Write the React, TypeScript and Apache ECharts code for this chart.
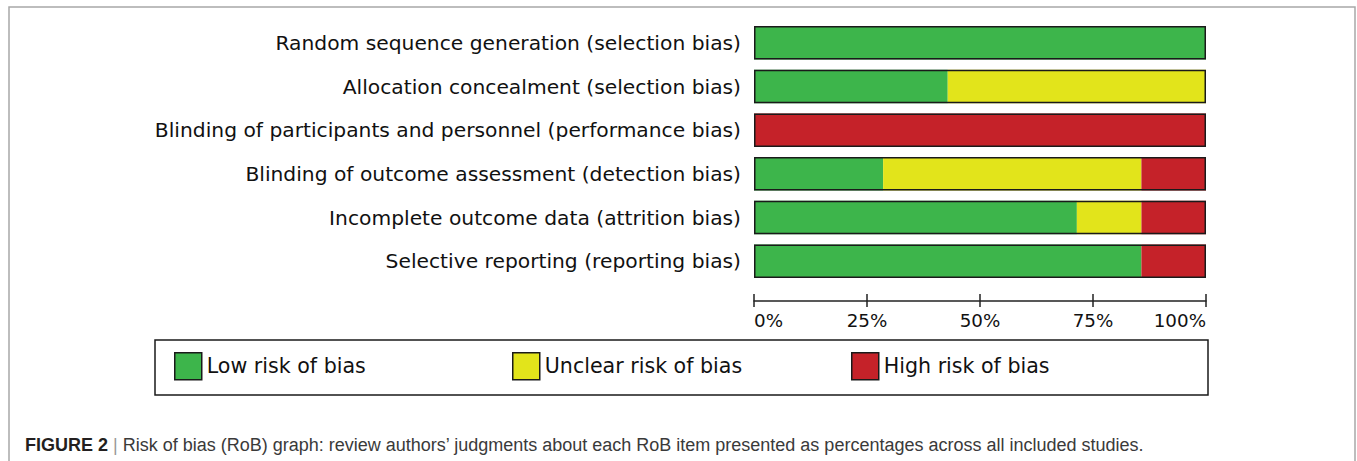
import React, { useEffect, useRef } from "react";
import * as echarts from "echarts";

const categories = [
  "Random sequence generation (selection bias)",
  "Allocation concealment (selection bias)",
  "Blinding of participants and personnel (performance bias)",
  "Blinding of outcome assessment (detection bias)",
  "Incomplete outcome data (attrition bias)",
  "Selective reporting (reporting bias)",
];

const lowRisk = [100, 42.86, 0, 28.57, 71.43, 85.71];
const unclearRisk = [0, 57.14, 0, 57.14, 14.29, 0];
const highRisk = [0, 0, 100, 14.29, 14.29, 14.29];
const barTotal = [100, 100, 100, 100, 100, 100];

const seriesNames = ["Low risk of bias", "Unclear risk of bias", "High risk of bias"];
const seriesColors = ["#3db54b", "#e2e41b", "#c52229"];

const xMin = 0;
const xMax = 100;
const xInterval = 25;

const captionBold = "FIGURE 2";
const captionText =
  "Risk of bias (RoB) graph: review authors\u2019 judgments about each RoB item presented as percentages across all included studies.";

const LABEL_FONT = "DejaVu Sans";

export default function App() {
  const ref = useRef<HTMLDivElement>(null);

  useEffect(() => {
    if (!ref.current) return;
    const chart = echarts.init(ref.current, null, { renderer: "svg" });

    const stackSeries = [lowRisk, unclearRisk, highRisk].map((d, i) => ({
      name: seriesNames[i],
      type: "bar",
      stack: "total",
      data: d,
      barWidth: 33.5,
      barGap: "-100%",
      itemStyle: { color: seriesColors[i] },
      emphasis: { disabled: true },
    }));

    const legendLefts = [174, 512, 851];

    const option: any = {
      animation: false,
      backgroundColor: "#ffffff",
      grid: {
        left: 754,
        right: 151,
        top: 21,
        height: 262,
        containLabel: false,
        outerBoundsMode: "none",
      },
      legend: seriesNames.map((n, i) => ({
        data: [n],
        left: legendLefts[i],
        top: 352,
        padding: 0,
        icon: "rect",
        itemWidth: 27,
        itemHeight: 27,
        itemGap: 6,
        selectedMode: false,
        itemStyle: { borderColor: "#1a1a1a", borderWidth: 1.5 },
        textStyle: { fontFamily: LABEL_FONT, fontSize: 20.6, color: "#111" },
      })),
      xAxis: [
        {
          type: "value",
          min: xMin,
          max: xMax,
          interval: xInterval,
          position: "bottom",
          offset: 18,
          splitLine: { show: false },
          axisLine: { show: true, lineStyle: { color: "#222", width: 1.5 } },
          axisTick: { show: true, inside: true, length: 7, lineStyle: { color: "#222", width: 1.5 } },
          axisLabel: {
            formatter: "{value}%",
            fontFamily: LABEL_FONT,
            fontSize: 18.3,
            color: "#111",
            margin: 10,
            alignMinLabel: "left",
            alignMaxLabel: "right",
          },
        },
        {
          type: "value",
          min: xMin,
          max: xMax,
          interval: xInterval,
          position: "bottom",
          offset: 18,
          splitLine: { show: false },
          axisLine: { show: false },
          axisTick: { show: true, inside: false, length: 6, lineStyle: { color: "#222", width: 1.5 } },
          axisLabel: { show: false },
        },
      ],
      yAxis: {
        type: "category",
        inverse: true,
        data: categories,
        axisLine: { show: false },
        axisTick: { show: false },
        splitLine: { show: false },
        axisLabel: {
          fontFamily: LABEL_FONT,
          fontSize: 20.25,
          color: "#111",
          margin: 13,
          padding: [7, 0, 0, 0],
        },
      },
      series: [
        ...stackSeries,
        {
          name: "outline",
          type: "bar",
          data: barTotal,
          barWidth: 33.5,
          barGap: "-100%",
          z: 10,
          silent: true,
          itemStyle: { color: "rgba(0,0,0,0)", borderColor: "#1a1a1a", borderWidth: 1.5 },
          emphasis: { disabled: true },
        },
      ],
      graphic: [
        {
          type: "polyline",
          silent: true,
          shape: { points: [[9, 470], [9, 7], [1355, 7], [1355, 470]] },
          style: { stroke: "#a8a8a8", lineWidth: 1.5, fill: null },
        },
        {
          type: "rect",
          silent: true,
          shape: { x: 155, y: 340, width: 1053, height: 55 },
          style: { stroke: "#1a1a1a", lineWidth: 1.5, fill: null },
        },
        {
          type: "text",
          silent: true,
          x: 25,
          y: 445,
          style: {
            text: `{b|${captionBold}} {s||} {r|${captionText}}`,
            fontFamily: "Liberation Sans",
            fontSize: 18,
            fill: "#333",
            verticalAlign: "middle",
            rich: {
              b: { fontFamily: "Liberation Sans", fontSize: 18, fontWeight: "bold", fill: "#231f20" },
              s: { fontFamily: "Liberation Sans", fontSize: 18, fill: "#999" },
              r: { fontFamily: "Liberation Sans", fontSize: 18, fill: "#3a3a3a" },
            },
          },
        },
      ],
    };

    chart.setOption(option);
    return () => {
      chart.dispose();
    };
  }, []);

  return (
    <div
      ref={ref}
      style={{ position: "fixed", left: 0, top: 0, width: 1357, height: 461 }}
    />
  );
}
